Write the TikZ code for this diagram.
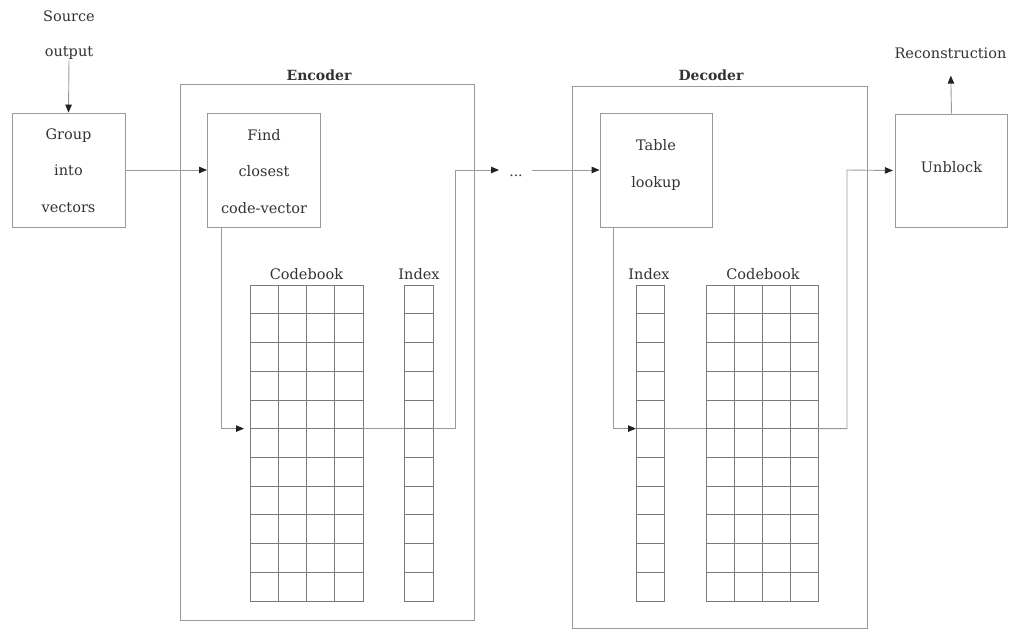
\documentclass[tikz,border=0pt]{standalone}
\usepackage{fontspec}
\setmainfont{DejaVu Serif}
\usetikzlibrary{arrows.meta}
\definecolor{linegray}{HTML}{9A9A9A}
\definecolor{gridgray}{HTML}{7A7A7A}
\definecolor{textgray}{HTML}{333333}
\definecolor{tipgray}{HTML}{222222}
\begin{document}
\begin{tikzpicture}[x=1pt,y=-1pt,
  line/.style={draw=linegray, line width=0.9pt},
  arr/.style={line, -{Triangle[length=8pt,width=6.5pt,color=tipgray]}},
  box/.style={line, rectangle, minimum width=113pt, minimum height=114pt, inner sep=0pt},
  frame/.style={line, rectangle, inner sep=0pt},
  gridline/.style={draw=gridgray, line width=0.8pt},
  txt/.style={text=textgray, font=\fontsize{14.5}{36.5}\selectfont, align=center, inner sep=1pt},
  btxt/.style={text=textgray, font=\fontsize{14}{16}\selectfont\bfseries, inner sep=1pt},
]
\useasboundingbox[fill=white] (0,0) rectangle (1010,632);
\def\rh{28.727}
% containers
\node[frame, minimum width=294pt, minimum height=536pt] (enc) at (327,352) {};
\node[frame, minimum width=295pt, minimum height=542pt] (dec) at (719.5,357) {};
\node[btxt] (enclab) at (319,75) {Encoder};
\node[btxt] (declab) at (711,75) {Decoder};
% source
\node[txt] (src) at (69,16.5) {Source};
\node[txt] (srcout) at (69,53) {output};
% boxes
\node[box] (group) at (68.5,170) {};
\node[txt] (grouptxt) at (68.5,170.5) {Group\\into\\vectors};
\node[box] (find) at (264,170) {};
\node[txt] (findtxt) at (264,171.5) {Find\\closest\\code-vector};
\node[box, minimum width=112pt] (table) at (656,170) {};
\node[txt] (tabletxt) at (656,165) {Table\\lookup};
\node[box, minimum width=112.5pt, minimum height=113pt] (unblock) at (951.5,170.5) {};
\node[txt] (unblocktxt) at (951.5,167) {Unblock};
\node[txt] (recon) at (950.5,53) {Reconstruction};
% tables
\node[frame, draw=gridgray, minimum width=113pt, minimum height=316pt] (cbE) at (306.5,443) {};
\node[frame, draw=gridgray, minimum width=29pt, minimum height=316pt] (ixE) at (418.5,443) {};
\node[frame, draw=gridgray, minimum width=28pt, minimum height=316pt] (ixD) at (650,443) {};
\node[frame, draw=gridgray, minimum width=112pt, minimum height=316pt] (cbD) at (762,443) {};
\node[txt] (cbElab) at (306.5,274) {Codebook};
\node[txt] (ixElab) at (419,274) {Index};
\node[txt] (ixDlab) at (649,274) {Index};
\node[txt] (cbDlab) at (763,274) {Codebook};
\foreach \i in {1,...,10} {
  \draw[gridline] (250,{285+\i*\rh}) -- (363,{285+\i*\rh});
  \draw[gridline] (404,{285+\i*\rh}) -- (433,{285+\i*\rh});
  \draw[gridline] (636,{285+\i*\rh}) -- (664,{285+\i*\rh});
  \draw[gridline] (706,{285+\i*\rh}) -- (818,{285+\i*\rh});
}
\foreach \j in {1,2,3} {
  \draw[gridline] ({250+\j*28.25},285) -- ({250+\j*28.25},601);
  \draw[gridline] ({706+\j*28},285) -- ({706+\j*28},601);
}
% coordinates
\coordinate (eIn) at (244,428.6);
\coordinate (eOut) at (455,170);
\coordinate (dA) at (499,170);
\coordinate (dB) at (532,170);
\coordinate (dIn) at (636,428.6);
\coordinate (dOut) at (847,170);
\node[text=textgray, font=\fontsize{14}{16}\selectfont, inner sep=0pt, anchor=base] (dots) at (516,176) {...};
% connectors
\draw[arr] (srcout.south) -- (group.north);
\draw[arr] (group.east) -- (find.west);
\draw[arr] ([xshift=14pt]find.south west) |- (eIn);
\draw[line] (cbE.east |- eIn) -- (ixE.west |- eIn);
\draw[arr] (ixE.east |- eIn) -| (eOut) -- (dA);
\draw[arr] (dB) -- (table.west);
\draw[arr] ([xshift=14pt]table.south west) |- (dIn);
\draw[line] (ixD.east |- dIn) -- (cbD.west |- dIn);
\draw[arr] (cbD.east |- dIn) -| (dOut) -- ([xshift=-2pt]unblock.west);
\draw[arr, shorten >=16pt] (unblock.north) -- (recon.south);
\end{tikzpicture}
\end{document}
